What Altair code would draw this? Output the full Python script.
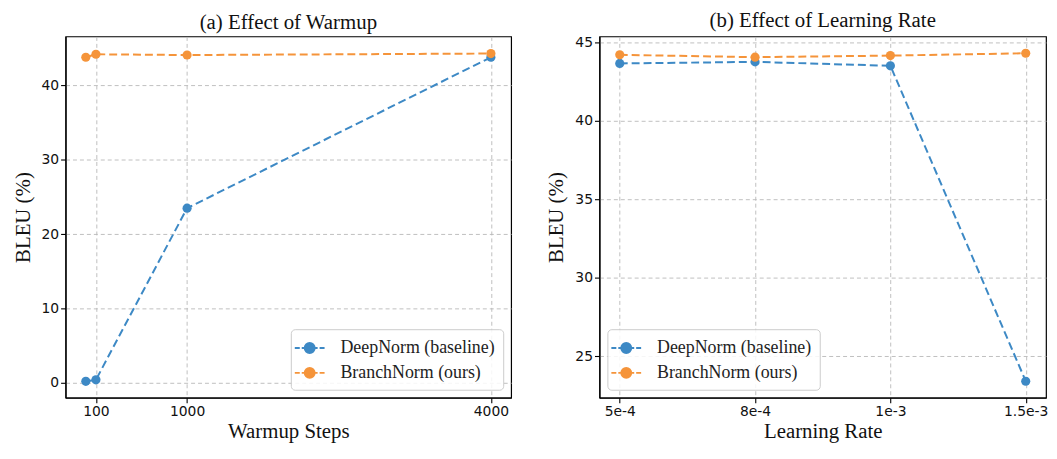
import json
import altair as alt
import pandas as pd

# ---- data ----
series = ["DeepNorm (baseline)", "BranchNorm (ours)"]
colors = ["#3d89c5", "#f5943a"]

warmup_steps = [0, 100, 1000, 4000]
warmup_deepnorm = [0.2, 0.4, 23.5, 43.8]
warmup_branchnorm = [43.8, 44.2, 44.1, 44.3]
warmup_ticks = [100, 1000, 4000]

lr_labels = ["5e-4", "8e-4", "1e-3", "1.5e-3"]
lr_deepnorm = [43.65, 43.75, 43.5, 23.4]
lr_branchnorm = [44.2, 44.05, 44.15, 44.3]

left_y_ticks = [0, 10, 20, 30, 40]
right_y_ticks = [25, 30, 35, 40, 45]

df_w = pd.DataFrame(
    [{"x": s, "y": v, "series": series[0]} for s, v in zip(warmup_steps, warmup_deepnorm)]
    + [{"x": s, "y": v, "series": series[1]} for s, v in zip(warmup_steps, warmup_branchnorm)]
)
df_lr = pd.DataFrame(
    [{"x": i, "y": v, "series": series[0]} for i, v in enumerate(lr_deepnorm)]
    + [{"x": i, "y": v, "series": series[1]} for i, v in enumerate(lr_branchnorm)]
)

SERIF = "Liberation Serif"
SANS = "DejaVu Sans"
GRID = "#b8b8b8"

# legend symbol: dash - circle - dash (unit = 10 px at symbolSize 400)
SYMBOL = ("M-1.5,0L-1.0,0M-0.8,0L0.8,0M1.0,0L1.5,0"
          "M-0.5,0A0.5,0.5,0,1,1,0.5,0A0.5,0.5,0,1,1,-0.5,0Z")

color_scale = alt.Scale(domain=series, range=colors)


def legend(orient):
    return alt.Legend(
        title=None, orient=orient, offset=8,
        symbolType=SYMBOL, symbolSize=400, symbolStrokeWidth=2,
        symbolOpacity=1,
        labelFont=SERIF, labelFontSize=18, labelColor="#222222",
        labelLimit=400, labelOffset=20,
        fillColor="rgba(255,255,255,0.85)", strokeColor="#cccccc",
        cornerRadius=4, padding=8, rowPadding=5,
    )


def axis_common(**kw):
    base = dict(
        grid=True, gridColor=GRID, gridDash=[4, 3], gridWidth=0.9,
        domainColor="black", domainWidth=1.2,
        tickColor="black", tickSize=5, tickWidth=1.1,
        labelFont=SANS, labelFontSize=14, labelColor="#111111", labelPadding=2,
        titleFont=SERIF, titleFontSize=21, titleFontWeight="normal", titleColor="#111111",
    )
    base.update(kw)
    return alt.Axis(**base)


def panel(df, title, width, height, xscale, xaxis, yscale, yaxis, orient):
    base = alt.Chart(df)
    x = alt.X("x:Q", scale=xscale, axis=xaxis)
    y = alt.Y("y:Q", scale=yscale, axis=yaxis)
    line = base.mark_line(strokeDash=[8, 4], strokeWidth=2).encode(
        x=x, y=y, color=alt.Color("series:N", scale=color_scale, legend=legend(orient), sort=series)
    )
    pts = base.mark_point(filled=True, size=85, opacity=1).encode(
        x=x, y=y, color=alt.Color("series:N", scale=color_scale, legend=legend(orient), sort=series)
    )
    return alt.layer(line, pts).properties(
        width=width, height=height,
        title=alt.Title(title, font=SERIF, fontSize=21, fontWeight="normal", color="#111111", offset=4),
    )


PH = 364

left = panel(
    df_w, "(a) Effect of Warmup", 449, PH,
    alt.Scale(domain=[-200, 4200], nice=False, zero=False),
    axis_common(values=warmup_ticks, format="d", title="Warmup Steps", titlePadding=2, labelFlush=False),
    alt.Scale(domain=[-2.0, 46.6], nice=False, zero=False),
    axis_common(values=left_y_ticks, title="BLEU (%)", titlePadding=8),
    "bottom-right",
)

label_expr = json.dumps(lr_labels) + "[datum.value]"
right = panel(
    df_lr, "(b) Effect of Learning Rate", 450, PH,
    alt.Scale(domain=[-0.15, 3.15], nice=False, zero=False),
    axis_common(values=list(range(len(lr_labels))), labelExpr=label_expr,
                title="Learning Rate", titlePadding=2, labelFlush=False),
    alt.Scale(domain=[22.35, 45.37], nice=False, zero=False),
    axis_common(values=right_y_ticks, title="BLEU (%)", titlePadding=8),
    "bottom-left",
)

chart = alt.hconcat(left, right, spacing=33).resolve_scale(
    color="independent"
).resolve_legend(color="independent").properties(
    padding={"left": 3, "top": 0, "right": 0, "bottom": 0}
).configure(
    background="white", font=SERIF
).configure_view(
    stroke="black", strokeWidth=1.2
).configure_legend(
    labelFont=SERIF, labelFontSize=18, labelColor="#222222"
)

chart.save("out.html", embed_options={"renderer": "svg", "actions": False})
